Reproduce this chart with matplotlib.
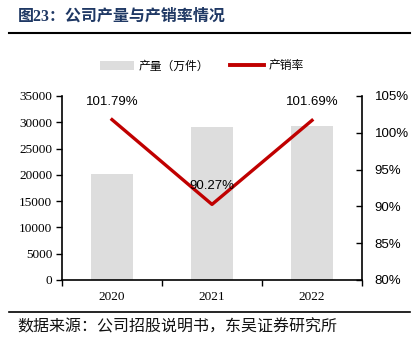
import matplotlib
matplotlib.use("Agg")
import matplotlib.pyplot as plt
from matplotlib.lines import Line2D
from matplotlib.patches import Patch
from matplotlib.ticker import FuncFormatter, FixedLocator

years = ["2020", "2021", "2022"]
production = [20100, 29100, 29300]
ratio = [101.79, 90.27, 101.69]
ratio_labels = ["101.79%", "90.27%", "101.69%"]
left_ticks = [0, 5000, 10000, 15000, 20000, 25000, 30000, 35000]
right_ticks = [80, 85, 90, 95, 100, 105]

CJK = ["Noto Sans CJK SC", "DejaVu Sans"]
SERIF_CJK = ["Liberation Serif", "Noto Sans CJK SC"]

fig = plt.figure(figsize=(4.12, 3.40), dpi=100)
ax = fig.add_axes([62/412, 1-280/340, 300/412, 184/340])
x = list(range(len(years)))
ax.bar(x, production, width=0.42, color="#dddddd", zorder=1)
ax.set_xlim(-0.5, 2.5)
ax.set_ylim(0, 35000)
ax.set_yticks(left_ticks)
ax.tick_params(axis="y", direction="out", length=4, labelsize=9.5, pad=3, width=1)
for lb in ax.get_yticklabels():
    lb.set_fontfamily("Liberation Serif")
ax.xaxis.set_major_locator(FixedLocator([-0.5, 0.5, 1.5, 2.5]))
ax.xaxis.set_major_formatter(FuncFormatter(lambda v, p: ""))
ax.xaxis.set_minor_locator(FixedLocator(x))
ax.set_xticklabels(years, minor=True)
ax.tick_params(axis="x", which="major", direction="out", length=4, width=1)
ax.tick_params(axis="x", which="minor", length=0, labelsize=9.5, pad=8)
for lb in ax.get_xticklabels(minor=True):
    lb.set_fontfamily("Liberation Serif")
ax.spines["top"].set_visible(False)
ax.spines["right"].set_visible(False)
for s in ["left", "bottom"]:
    ax.spines[s].set_linewidth(1.2)
    ax.spines[s].set_color("black")

ax2 = ax.twinx()
ax2.plot(x, ratio, color="#c00000", linewidth=2.4, zorder=3)
ax2.set_ylim(80, 105)
ax2.set_yticks(right_ticks)
ax2.yaxis.set_major_formatter(FuncFormatter(lambda v, p: f"{v:.0f}%"))
ax2.tick_params(axis="y", direction="in", length=4, labelsize=9.5, pad=9, width=1)
for lb in ax2.get_yticklabels():
    lb.set_fontfamily("Liberation Sans")
ax2.spines["top"].set_visible(False)
ax2.spines["left"].set_visible(False)
ax2.spines["bottom"].set_visible(False)
ax2.spines["right"].set_linewidth(1.2)
for xi, r, t in zip(x, ratio, ratio_labels):
    ax2.annotate(t, (xi, r), xytext=(0, 13), textcoords="offset points",
                 ha="center", va="center", fontsize=9.5, family="Liberation Sans")

handles = [Patch(facecolor="#dddddd", edgecolor="none", label="产量（万件）"),
           Line2D([0], [0], color="#c00000", linewidth=2.8, label="产销率")]
fig.legend(handles=handles, loc="center", bbox_to_anchor=(202/412, 1-66/340),
           ncol=2, frameon=False, prop={"family": CJK, "size": 8.5},
           handlelength=2.9, handletextpad=0.4, columnspacing=1.7)

fig.text(18/412, 1-17/340, "图23：公司产量与产销率情况", ha="left", va="center",
         fontsize=11.5, fontweight="bold", color="#1f3864", family=SERIF_CJK)
fig.add_artist(Line2D([9/412, 410/412], [1-33/340, 1-33/340], color="black", linewidth=1.5))
fig.add_artist(Line2D([9/412, 410/412], [1-312/340, 1-312/340], color="black", linewidth=1.2))
fig.text(17/412, 1-327/340, "数据来源：公司招股说明书，东吴证券研究所", ha="left", va="center",
         fontsize=11.5, color="#111111", family=CJK)

fig.savefig("out.png", dpi=100)
